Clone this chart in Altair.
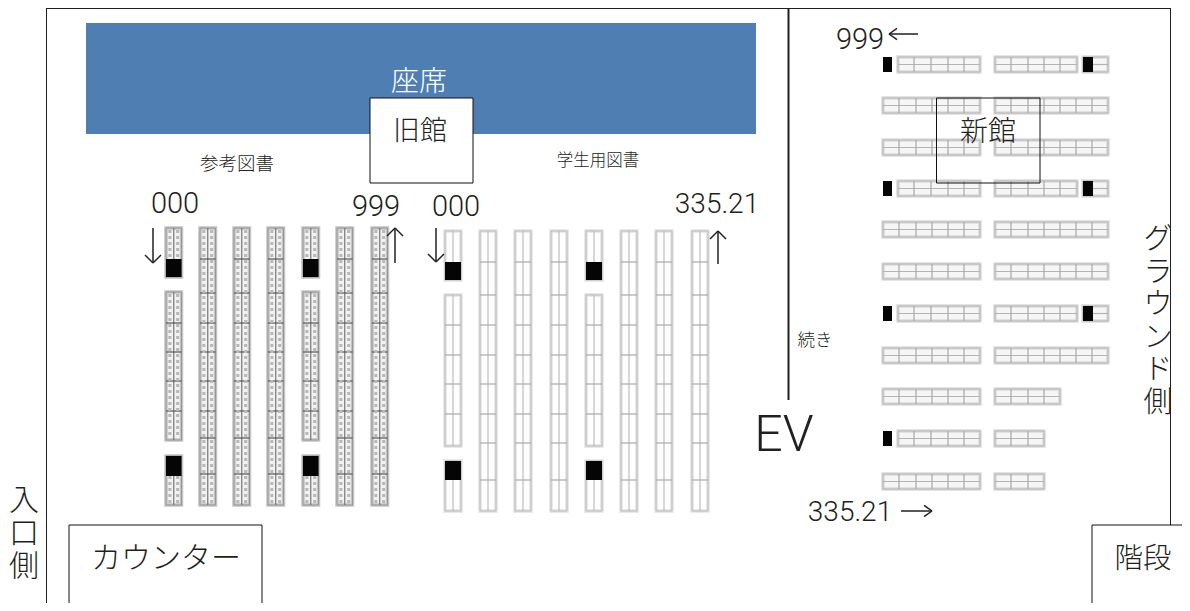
import altair as alt
import pandas as pd

# ---- frame and boxes (image coordinates) ----
frame_segments = [(46, 8.5, 1170, 8.5), (46.5, 8, 46.5, 611), (1170.5, 8, 1170.5, 525)]
divider_wall = [(788.5, 8, 788.5, 400)]
seat_block = [(86, 23, 756, 134)]
filled_boxes = [(370, 98, 473, 183), (69, 525, 262, 620), (1092, 525, 1189, 620)]
open_boxes = [(936.5, 98, 1040, 183)]

# ---- old hall (vertical shelves) ----
old_full_cols = [200, 234, 268, 337, 372]
old_split_cols = [166, 303]
old_w = 15.5
old_top, old_bottom = 228, 505
old_full_dividers = [259, 293, 323, 352, 381, 411, 438, 474]
old_split_spans = [(228, 277), (292, 440), (456, 505)]
old_split_dividers = [323, 352, 381, 411]
old_split_black = [(259, 277), (456, 476)]

# ---- student books (vertical shelves) ----
stu_full_cols = [480, 515, 551, 621, 656, 692]
stu_split_cols = [445, 586]
stu_w = 16
stu_top, stu_bottom = 231, 511
stu_full_dividers = [262, 295, 325, 355, 384, 414, 443, 480]
stu_split_spans = [(231, 280), (295, 446), (461, 511)]
stu_split_dividers = [325, 355, 384, 414]
stu_split_black = [(262, 280), (461, 480)]

# ---- new hall (horizontal shelves) ----
row_tops = [57, 98, 140, 181, 222, 264, 306, 348, 389, 431, 474]
row_h = 15
L_FULL = [899, 916, 932, 948, 964]
L_SHORT = [914, 931, 948, 964]
R_FULL = [1011, 1028, 1044, 1060, 1076, 1092]
R_SHORT = [1011, 1028, 1044, 1060]
# (row, left, right, divider xs)
new_shelves = [
    (0, 898, 980, L_SHORT), (0, 995, 1077, R_SHORT), (0, 1083, 1108, []),
    (1, 883, 980, L_FULL), (1, 995, 1108, R_FULL),
    (2, 883, 980, L_FULL), (2, 995, 1108, R_FULL),
    (3, 898, 980, L_SHORT), (3, 995, 1077, R_SHORT), (3, 1083, 1108, []),
    (4, 883, 980, L_FULL), (4, 995, 1108, R_FULL),
    (5, 883, 980, L_FULL), (5, 995, 1108, R_FULL),
    (6, 898, 980, L_SHORT), (6, 995, 1077, R_SHORT), (6, 1083, 1108, []),
    (7, 883, 980, L_FULL), (7, 995, 1108, R_FULL),
    (8, 883, 980, L_FULL), (8, 995, 1060, [1011, 1028, 1044]),
    (9, 898, 980, L_SHORT), (9, 995, 1044, [1011, 1028]),
    (10, 883, 980, L_FULL), (10, 995, 1044, [1011, 1028]),
]
new_black = [(0, 883, 892), (0, 1083, 1093), (3, 883, 892), (3, 1083, 1093), (6, 883, 892),
             (6, 1083, 1093), (9, 883, 892)]

# ---- arrows: shaft x0, y0, x1, y1 and head direction ----
arrows = [
    (153, 228, 153, 263, "down"), (395, 263, 395, 228, "up"), (436, 228, 436, 262, "down"),
    (718, 264, 718, 231, "up"), (918, 34, 889, 34, "left"), (901, 511, 932, 511, "right"),
]
head = 8

# ---- labels ----
sans = "Noto Sans CJK JP"
latin = "Roboto"
ink = "#231f20"
labels = [
    ("座席", 419, 83, 28, "white", sans), ("旧館", 420, 132, 27, ink, sans), ("新館", 988, 133, 28, ink, sans),
    ("参考図書", 237, 164, 18.5, ink, sans), ("学生用図書", 598, 161, 16.5, ink, sans),
    ("続き", 815, 341, 17.5, ink, sans), ("カウンター", 166, 559, 30, ink, sans),
    ("階段", 1143, 559, 28.5, ink, sans),
    ("000", 175, 204, 29, ink, latin), ("999", 376, 207, 29, ink, latin),
    ("000", 456, 207, 29, ink, latin), ("335.21", 717, 205, 28, ink, latin),
    ("999", 860, 40, 29, ink, latin), ("335.21", 850, 513, 28, ink, latin),
    ("EV", 784, 436, 50, ink, latin),
]
# y is the centre of the first line
vertical_labels = [("グ\nラ\nウ\nン\nド\n側", 1158, 240, 29, 32.5), ("入\n口\n側", 24, 501, 30, 33)]

# ---- build tables ----
def new_group():
    return dict(shelves=[], dividers=[], centers=[], dots=[])

old, stu, new = new_group(), new_group(), new_group()
black = []

def v_shelf(g, x, w, t, b, dividers, hatch):
    g["shelves"].append(dict(x=x, x2=x + w, y=t, y2=b))
    g["centers"].append(dict(x=x + w / 2, x2=x + w / 2, y=t, y2=b))
    for d in dividers:
        g["dividers"].append(dict(x=x, x2=x + w, y=d, y2=d))
    if hatch:
        for f in (0.25, 0.75):
            g["dots"].append(dict(x=x + w * f, x2=x + w * f, y=t + 2, y2=b - 2))

for c in old_full_cols:
    v_shelf(old, c, old_w, old_top, old_bottom, old_full_dividers, True)
for c in old_split_cols:
    for (t, b) in old_split_spans:
        v_shelf(old, c, old_w, t, b, [d for d in old_split_dividers if t < d < b], True)
    for (t, b) in old_split_black:
        black.append(dict(x=c, x2=c + old_w, y=t, y2=b))
for c in stu_full_cols:
    v_shelf(stu, c, stu_w, stu_top, stu_bottom, stu_full_dividers, False)
for c in stu_split_cols:
    for (t, b) in stu_split_spans:
        v_shelf(stu, c, stu_w, t, b, [d for d in stu_split_dividers if t < d < b], False)
    for (t, b) in stu_split_black:
        black.append(dict(x=c, x2=c + stu_w, y=t, y2=b))
for (r, l, rr, ds) in new_shelves:
    t = row_tops[r]
    new["shelves"].append(dict(x=l, x2=rr, y=t, y2=t + row_h))
    new["centers"].append(dict(x=l, x2=rr, y=t + row_h / 2, y2=t + row_h / 2))
    for d in ds:
        new["dividers"].append(dict(x=d, x2=d, y=t, y2=t + row_h))
for (r, l, rr) in new_black:
    t = row_tops[r]
    black.append(dict(x=l, x2=rr, y=t, y2=t + row_h))

arrow_lines = []
for (x0, y0, x1, y1, kind) in arrows:
    arrow_lines.append(dict(x=x0, y=y0, x2=x1, y2=y1))
    if kind in ("up", "down"):
        dy = head if kind == "up" else -head
        arrow_lines += [dict(x=x1, y=y1, x2=x1 - head, y2=y1 + dy), dict(x=x1, y=y1, x2=x1 + head, y2=y1 + dy)]
    else:
        dx = head if kind == "left" else -head
        arrow_lines += [dict(x=x1, y=y1, x2=x1 + dx, y2=y1 - head * 0.7), dict(x=x1, y=y1, x2=x1 + dx, y2=y1 + head * 0.7)]

W, H = 1174, 595
xs = alt.Scale(domain=[8, 8 + W], range=[0, W])
ys = alt.Scale(domain=[8, 8 + H], range=[0, H])
X = alt.X("x:Q", scale=xs, axis=None)
Y = alt.Y("y:Q", scale=ys, axis=None)

def tbl(t):
    return pd.DataFrame(t, columns=["x", "y", "x2", "y2"])

def rect_layer(df, **kw):
    return alt.Chart(df).mark_rect(**kw).encode(x=X, x2="x2:Q", y=Y, y2="y2:Q")

def rule_layer(df, **kw):
    return alt.Chart(df).mark_rule(**kw).encode(x=X, x2="x2:Q", y=Y, y2="y2:Q")

layers = [
    rect_layer(tbl(seat_block), color="#4f7fb2"),
    rule_layer(tbl(frame_segments), color=ink, strokeWidth=1),
    rule_layer(tbl(divider_wall), color=ink, strokeWidth=2),
]

def group_layers(g, fill, halo, edge, center, divider, width):
    df = pd.DataFrame(g["shelves"])
    out = [
        rect_layer(df, fill=fill, stroke=halo, strokeWidth=3.5),
        rect_layer(df, fillOpacity=0, stroke=edge, strokeWidth=1),
        rule_layer(pd.DataFrame(g["centers"]), color=center, strokeWidth=width),
        rule_layer(pd.DataFrame(g["dividers"]), color=divider, strokeWidth=width),
    ]
    if g["dots"]:
        out.append(rule_layer(pd.DataFrame(g["dots"]), color="#b8b8b8", strokeWidth=3, strokeDash=[3, 3]))
    return out

layers += group_layers(old, "#f2f2f2", "#c4c4c4", "#979797", "#777777", "#555555", 1.2)
layers += group_layers(stu, "#fefefe", "#e2e2e2", "#bcbcbc", "#bcbcbc", "#a8a8a8", 1.2)
layers += group_layers(new, "#f6f6f6", "#dcdcdc", "#b4b4b4", "#b4b4b4", "#a8a8a8", 1.2)

layers += [
    rect_layer(pd.DataFrame(black), color="#050505"),
    rect_layer(tbl(filled_boxes), fill="white", stroke="#111111", strokeWidth=1),
    rect_layer(tbl(open_boxes), fill="white", fillOpacity=0, stroke="#111111", strokeWidth=1),
    rule_layer(pd.DataFrame(arrow_lines), color=ink, strokeWidth=1.5),
]
for (txt, x, y, size, col, font) in labels:
    d = pd.DataFrame([dict(x=x, y=y, t=txt)])
    layers.append(alt.Chart(d).mark_text(fontSize=size, color=col, font=font, fontWeight=300,
                                         align="center", baseline="middle").encode(x=X, y=Y, text="t:N"))
for (txt, x, y, size, lh) in vertical_labels:
    d = pd.DataFrame([dict(x=x, y=y, t=txt)])
    layers.append(alt.Chart(d).mark_text(fontSize=size, color=ink, font=sans, fontWeight=300,
                                         lineBreak="\n", lineHeight=lh,
                                         align="center", baseline="middle").encode(x=X, y=Y, text="t:N"))

chart = alt.layer(*layers).properties(width=W, height=H, padding=0,
                                      autosize=alt.AutoSizeParams(type="none")).configure_view(stroke=None)
chart.save("out.html", embed_options={"renderer": "svg", "actions": False})
